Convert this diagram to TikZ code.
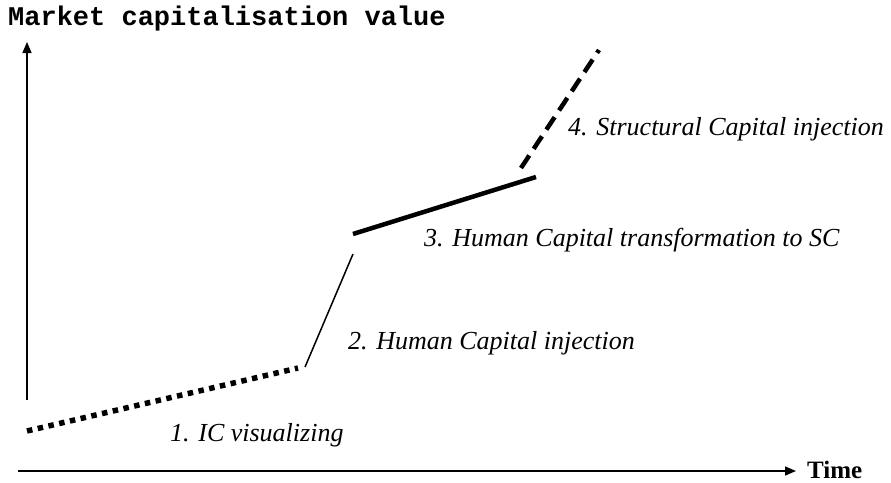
\documentclass[tikz,border=0pt]{standalone}
\usepackage{fontspec}
\setmainfont{Liberation Serif}
\newfontfamily\titlefont{Liberation Mono}
\usetikzlibrary{arrows.meta}

\tikzset{
    axis/.style={line width=1.5pt, -{Triangle[length=11pt,width=9pt]}},
    phase/.style={anchor=base west, inner sep=0pt, font=\fontsize{26}{30}\selectfont\itshape},
}

\begin{document}
\begin{tikzpicture}[x=1pt, y=-1pt]
    \useasboundingbox (0,0) rectangle (891,482);

    % Axes
    \coordinate (ybot) at (27,400);
    \coordinate (ytop) at (27,42);
    \coordinate (xleft) at (18,471);
    \coordinate (xright) at (796,471);
    \draw[axis] (ybot) -- (ytop);
    \draw[axis] (xleft) -- (xright);
    \node[anchor=base west, inner sep=0pt, font=\titlefont\bfseries\fontsize{27}{30}\selectfont] (ylabel) at (8,25) {Market capitalisation value};
    \node[anchor=base west, inner sep=0pt, font=\bfseries\fontsize{25}{30}\selectfont] (xlabel) at (807,478) {Time};

    % Corner points of the curve
    \coordinate (a0) at (27,431);
    \coordinate (a1) at (298,368);
    \coordinate (b0) at (305,367);
    \coordinate (b1) at (353,254);
    \coordinate (c0) at (353,234);
    \coordinate (c1) at (536,177);
    \coordinate (d0) at (521,168);
    \coordinate (d1) at (599,50);

    % Phases
    \draw[line width=5.5pt, dash pattern=on 5.5pt off 5.5pt] (a0) -- (a1); % IC visualizing
    \draw[line width=1.5pt] (b0) -- (b1); % HC injection
    \draw[line width=4.5pt] (c0) -- (c1); % HC to SC
    \draw[line width=4.5pt, dash pattern=on 15pt off 8pt] (d0) -- (d1); % SC injection

    % Phase labels
    \node[phase] (p1) at (170,441) {1. IC visualizing};
    \node[phase] (p2) at (348,349) {2. Human Capital injection};
    \node[phase] (p3) at (424,246) {3. Human Capital transformation to SC};
    \node[phase] (p4) at (568,135) {4. Structural Capital injection};
\end{tikzpicture}
\end{document}
